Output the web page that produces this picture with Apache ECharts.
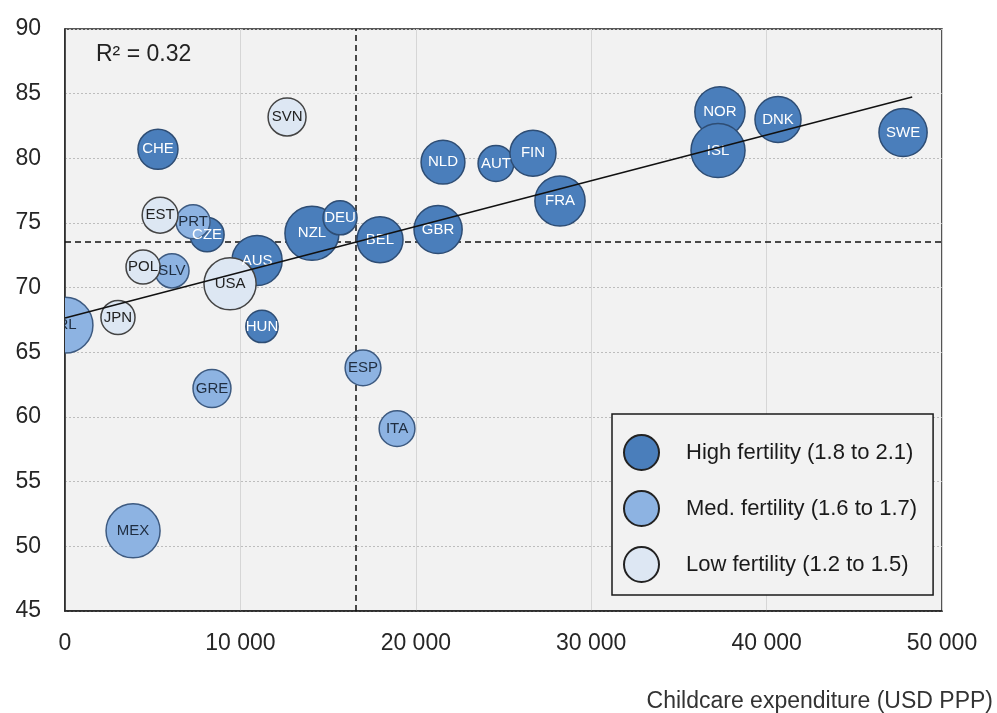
<!DOCTYPE html>
<html>
<head>
<meta charset="utf-8">
<script src="https://cdn.jsdelivr.net/npm/echarts@6/dist/echarts.min.js"></script>
<style>
  html, body { margin: 0; padding: 0; background: #fff; }
  #main { width: 997px; height: 713px; }
</style>
</head>
<body>
<div id="main"></div>
<script>
// countries, childcare spend (x), outcome (y), bubble weight, fertility group
const countries = ['CHE', 'HUN', 'AUS', 'CZE', 'NZL', 'DEU', 'BEL', 'GBR', 'NLD', 'AUT', 'FIN', 'FRA', 'NOR', 'ISL', 'DNK', 'SWE',
  'IRL', 'PRT', 'SLV', 'GRE', 'ESP', 'ITA', 'MEX',
  'JPN', 'POL', 'EST', 'SVN', 'USA']
const expenditure = [5300, 11230, 10950, 8100, 14080, 15680, 17960, 21270, 21550, 24570, 26680, 28220, 37340, 37230, 40650, 47780,
  0, 7300, 6100, 8380, 16990, 18930, 3880,
  3020, 4450, 5420, 12660, 9410]
const outcome = [80.7, 67.0, 72.1, 74.1, 74.2, 75.4, 73.7, 74.5, 79.7, 79.6, 80.4, 76.7, 83.6, 80.6, 83.0, 82.0,
  67.1, 75.1, 71.3, 62.2, 63.8, 59.1, 51.2,
  67.7, 71.6, 75.6, 83.2, 70.3]
const weight = [4.0, 2.6, 6.3, 2.9, 7.3, 2.9, 5.3, 5.8, 4.8, 3.2, 5.3, 6.3, 6.3, 7.3, 5.3, 5.8,
  7.8, 2.9, 2.9, 3.6, 3.2, 3.2, 7.3,
  2.9, 2.9, 3.2, 3.6, 6.8]
const fertility = ['High', 'High', 'High', 'High', 'High', 'High', 'High', 'High', 'High', 'High', 'High', 'High', 'High', 'High', 'High', 'High',
  'Med', 'Med', 'Med', 'Med', 'Med', 'Med', 'Med',
  'Low', 'Low', 'Low', 'Low', 'Low']

const groups = ['High', 'Med', 'Low']
const groupNames = ['High fertility (1.8 to 2.1)', 'Med. fertility (1.6 to 1.7)', 'Low fertility (1.2 to 1.5)']

// trend line ends and the two average lines
const trendX = [0, 48300]
const trendY = [67.65, 84.75]
const avgX = 16600
const avgY = 73.55

const xTicks = [0, 10000, 20000, 30000, 40000, 50000]

const font = 'Liberation Sans, Arial, sans-serif'
const fills = { High: '#4a7ebb', Med: '#8db3e2', Low: '#dde7f3' }
const strokes = { High: '#2e4d74', Med: '#3d5a80', Low: '#444' }
const textColors = { High: '#ffffff', Med: '#1f2d40', Low: '#222' }

let bubbleSeries = groups.map((g, gi) => {
  let rows = []
  countries.forEach((c, i) => {
    if (fertility[i] === g) rows.push([expenditure[i], outcome[i], weight[i], c])
  })
  return {
    name: groupNames[gi],
    type: 'custom',
    clip: true,
    z: 2,
    encode: { x: 0, y: 1 },
    itemStyle: { color: fills[g], borderColor: strokes[g], borderWidth: 1.5 },
    data: rows,
    renderItem: (params, api) => {
      const p = api.coord([api.value(0), api.value(1)])
      const r = 10 * Math.sqrt(api.value(2))
      return {
        type: 'circle',
        shape: { cx: p[0], cy: p[1], r: r },
        style: { fill: fills[g], stroke: strokes[g], lineWidth: 1.5 },
        textContent: {
          type: 'text',
          style: { text: rows[params.dataIndex][3], fill: textColors[g], fontSize: 15, fontFamily: font }
        },
        textConfig: { position: 'inside' }
      }
    }
  }
})

let option = {
  animation: false,
  backgroundColor: '#ffffff',
  title: [
    { text: 'R\u00b2 = 0.32', left: 96, top: 43, padding: 0,
      textStyle: { fontSize: 23, fontWeight: 'normal', color: '#222', fontFamily: font } },
    { text: 'Childcare expenditure (USD PPP)', right: 4, top: 690, padding: 0,
      textStyle: { fontSize: 23, fontWeight: 'normal', color: '#333', fontFamily: font } }
  ],
  grid: {
    left: 65, right: 55, top: 29, bottom: 102,
    show: true, backgroundColor: '#f2f2f2', borderColor: '#222', borderWidth: 1.5
  },
  legend: {
    orient: 'vertical',
    left: 612, top: 414,
    padding: [20, 16, 12, 11],
    itemWidth: 35, itemHeight: 37, itemGap: 19,
    backgroundColor: '#f2f2f2',
    borderColor: '#1a1a1a', borderWidth: 1.5,
    selectedMode: false,
    textStyle: { fontSize: 22, color: '#1a1a1a', fontFamily: font, padding: [0, 0, 0, 22] },
    data: groups.map((g, gi) => ({
      name: groupNames[gi], icon: 'circle',
      itemStyle: { color: fills[g], borderColor: '#222', borderWidth: 2 }
    }))
  },
  xAxis: {
    type: 'value', min: 0, max: 50000, interval: 10000,
    axisLine: { show: true, lineStyle: { color: '#222', width: 1.5 } },
    axisTick: { show: false },
    axisLabel: {
      margin: 21, fontSize: 23, color: '#262626', fontFamily: font,
      formatter: v => xTicks.includes(v) ? String(v).replace(/\B(?=(\d{3})+(?!\d))/g, ' ') : ''
    },
    splitLine: { show: true, lineStyle: { color: '#d6d6d6', width: 1 } }
  },
  yAxis: {
    type: 'value', min: 45, max: 90, interval: 5,
    axisLine: { show: true, lineStyle: { color: '#222', width: 1.5 } },
    axisTick: { show: false },
    axisLabel: { margin: 24, fontSize: 23, color: '#262626', fontFamily: font },
    splitLine: { show: true, lineStyle: { color: '#bdbdbd', width: 1, type: [2, 2] } }
  },
  series: [
    {
      name: 'averages',
      type: 'line',
      z: 1,
      data: [],
      markLine: {
        z: 1,
        silent: true,
        symbol: 'none',
        label: { show: false },
        lineStyle: { color: '#111', width: 1.5, type: [6, 4] },
        data: [{ xAxis: avgX }, { yAxis: avgY }]
      }
    },
    ...bubbleSeries,
    {
      name: 'trend',
      type: 'line',
      z: 5,
      symbol: 'none',
      lineStyle: { color: '#111', width: 1.5 },
      data: trendX.map((x, i) => [x, trendY[i]])
    }
  ]
}

var chartDom = document.getElementById('main')
var myChart = echarts.init(chartDom)
option && myChart.setOption(option)
</script>
</body>
</html>
